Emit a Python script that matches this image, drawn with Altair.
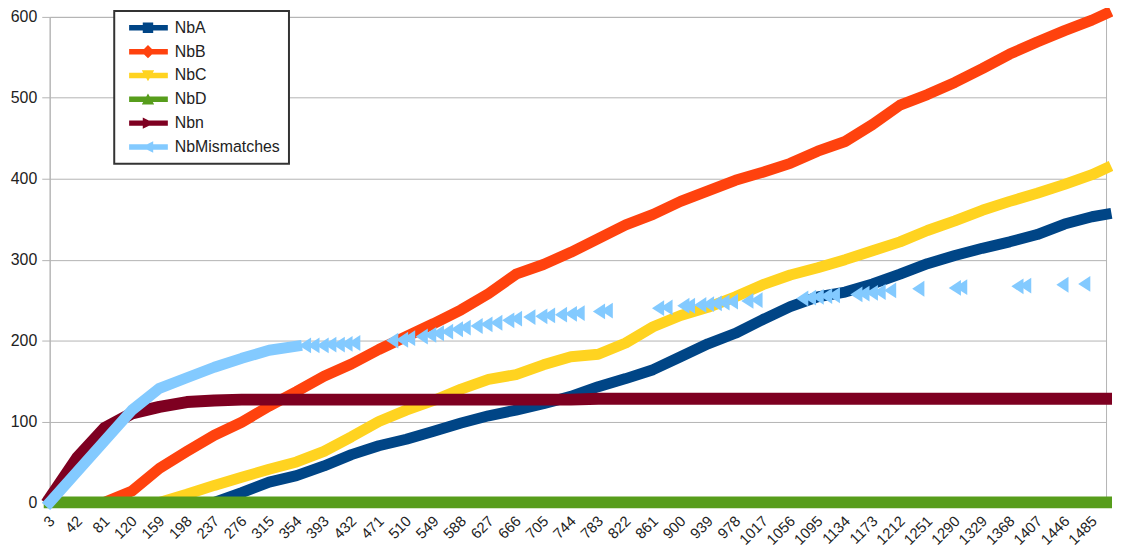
import altair as alt
import pandas as pd

# ---------------- data ----------------
categories = [3, 42, 81, 120, 159, 198, 237, 276, 315, 354, 393, 432, 471, 510,
              549, 588, 627, 666, 705, 744, 783, 822, 861, 900, 939, 978, 1017,
              1056, 1095, 1134, 1173, 1212, 1251, 1290, 1329, 1368, 1407, 1446,
              1485, 1505]

nb_a = [0, 0, 0, 0, 0, 0, 0, 12, 25, 33, 45, 59, 70, 78, 88, 98, 107, 114, 122,
        131, 143, 153, 164, 180, 196, 209, 226, 242, 254, 260, 270, 282, 295,
        305, 314, 322, 331, 344, 353, 356]

nb_b = [0, 0, 0, 14, 42, 63, 83, 99, 119, 137, 156, 171, 189, 205, 221, 238,
        258, 282, 294, 309, 326, 343, 356, 372, 385, 398, 408, 419, 434, 446,
        467, 491, 504, 519, 536, 554, 569, 583, 596, 604]

nb_c = [0, 0, 0, 0, 0, 10, 21, 31, 41, 50, 63, 81, 100, 114, 126, 140, 152,
        158, 170, 180, 183, 197, 217, 231, 241, 254, 269, 281, 290, 300, 311,
        322, 336, 348, 361, 372, 382, 393, 405, 413]

nb_d = [0, 0, 0, 0, 0, 0, 0, 0, 0, 0, 0, 0, 0, 0, 0, 0, 0, 0, 0, 0,
        0, 0, 0, 0, 0, 0, 0, 0, 0, 0, 0, 0, 0, 0, 0, 0, 0, 0, 0, 0]

nb_n = [5, 55, 92, 110, 118, 124, 126, 127, 127, 127, 127, 127, 127, 127, 127,
        127, 127, 127, 127, 127, 128, 128, 128, 128, 128, 128, 128, 128, 128,
        128, 128, 128, 128, 128, 128, 128, 128, 128, 128, 128]

# NbMismatches: continuous part, then isolated points
mism_dense_cat = [3, 42, 81, 120, 159, 198, 237, 276, 315, 354]
mism_dense = [0, 38, 76, 114, 141, 154, 167, 178, 188, 193]

mism_sparse_cat = [366, 378, 391, 402, 414, 425, 436,
                   490, 504, 514, 532, 544, 555, 568, 582, 593,
                   610, 624, 638, 655, 666, 685, 702, 713, 730, 744, 755,
                   784, 795, 868, 880, 904, 912, 928, 939, 950, 961, 973,
                   995, 1008, 1073, 1084, 1095, 1107, 1118,
                   1150, 1160, 1172, 1183, 1198, 1238, 1290, 1299,
                   1379, 1390, 1443, 1474]
mism_sparse = [194, 194, 194, 195, 195, 196, 197,
               200, 201, 203, 205, 207, 209, 211, 214, 216,
               218, 220, 222, 225, 227, 229, 230, 231, 232, 233, 234,
               236, 237, 240, 241, 243, 243, 244, 245, 246, 247, 248,
               249, 250, 252, 253, 254, 255, 256,
               257, 258, 259, 260, 262, 264, 265, 266,
               267, 268, 269, 270]

series_names = ["NbA", "NbB", "NbC", "NbD", "Nbn", "NbMismatches"]
series_colors = ["#004586", "#ff420e", "#ffd320", "#579d1c", "#7e0021", "#83caff"]

y_ticks = [0, 100, 200, 300, 400, 500, 600]
x_ticks = categories[:-1]

# legend symbols: line + marker (unit = half of sqrt(symbolSize))
LINE = "M-0.4,-0.55 H7.4 V0.55 H-0.4 Z "
legend_paths = [
    LINE + "M2.35,-1.05 H4.45 V1.05 H2.35 Z",          # square
    LINE + "M3.4,-1.35 L4.75,0 L3.4,1.35 L2.05,0 Z",   # diamond
    LINE + "M2.15,-1.05 H4.65 L3.4,1.15 Z",            # triangle down
    LINE + "M2.15,1.05 L3.4,-1.15 L4.65,1.05 Z",       # triangle up
    LINE + "M2.35,-1.15 L4.65,0 L2.35,1.15 Z",         # triangle right
    LINE + "M4.45,-1.15 L4.45,1.15 L2.15,0 Z",         # triangle left
]
TRI_LEFT = "M1,-1.3 L1,1.3 L-1,0 Z"

# ---------------- chart ----------------
x_scale = alt.Scale(domain=[3, 1505], nice=False, zero=False)
y_scale = alt.Scale(domain=[0, 600], nice=False)

x_axis = alt.Axis(values=x_ticks, format="d", labelAngle=-45, labelAlign="right",
                  labelBaseline="top", labelPadding=11, labelOffset=-3,
                  ticks=False, grid=False,
                  title=None, labelFontSize=15, labelOverlap=False,
                  labelColor="#222222", labelFont="Liberation Sans",
                  domainColor="#b3b3b3")
y_axis = alt.Axis(values=y_ticks, format="d", grid=True, gridColor="#b3b3b3",
                  tickColor="#b3b3b3", tickSize=8, labelPadding=5, title=None,
                  labelFontSize=16, labelColor="#222222",
                  labelFont="Liberation Sans", domainColor="#b3b3b3")


def line_layer(cats, vals, color, width):
    df = pd.DataFrame({"c": cats, "v": vals})
    return alt.Chart(df).mark_line(
        color=color, strokeWidth=width, strokeCap="square", strokeJoin="round"
    ).encode(
        x=alt.X("c:Q", scale=x_scale, axis=x_axis),
        y=alt.Y("v:Q", scale=y_scale, axis=y_axis),
    )


layers = [
    line_layer(categories, nb_a, series_colors[0], 11),
    line_layer(categories, nb_b, series_colors[1], 11),
    line_layer(categories, nb_c, series_colors[2], 11),
    line_layer(categories, nb_d, series_colors[3], 12),
    line_layer(categories, nb_n, series_colors[4], 12),
    line_layer(mism_dense_cat, mism_dense, series_colors[5], 11),
]

sparse_df = pd.DataFrame({"c": mism_sparse_cat, "v": mism_sparse})
layers.append(
    alt.Chart(sparse_df).mark_point(
        shape=TRI_LEFT, filled=True, size=150, color=series_colors[5], opacity=1
    ).encode(
        x=alt.X("c:Q", scale=x_scale, axis=x_axis),
        y=alt.Y("v:Q", scale=y_scale, axis=y_axis),
    )
)

legend = alt.Legend(
    orient="none", legendX=65, legendY=-6, title=None,
    padding=9, strokeColor="#333333", fillColor="#ffffff",
    labelFont="Liberation Sans", labelFontSize=16, labelColor="#222222",
    labelOffset=36, rowPadding=8, symbolSize=100, symbolStrokeWidth=0,
    symbolOpacity=1,
)
legend_df = pd.DataFrame({"s": series_names, "c": [3] * 6, "v": [-100] * 6})
layers.append(
    alt.Chart(legend_df).mark_point(filled=True, size=100, clip=True, opacity=1).encode(
        x=alt.X("c:Q", scale=x_scale, axis=x_axis),
        y=alt.Y("v:Q", scale=y_scale, axis=y_axis),
        color=alt.Color("s:N", scale=alt.Scale(domain=series_names, range=series_colors),
                        legend=legend),
        shape=alt.Shape("s:N", scale=alt.Scale(domain=series_names, range=legend_paths),
                        legend=legend),
    )
)

chart = alt.layer(*layers).properties(
    width=1064, height=489,
    autosize=alt.AutoSizeParams(type="none"),
    padding={"left": 42, "top": 7, "right": 7, "bottom": 46},
    background="#ffffff",
).configure_view(
    stroke="#b3b3b3", strokeWidth=1
).configure_legend(
    strokeWidth=2
)

chart.save("out.html", embed_options={"renderer": "svg", "actions": False})
